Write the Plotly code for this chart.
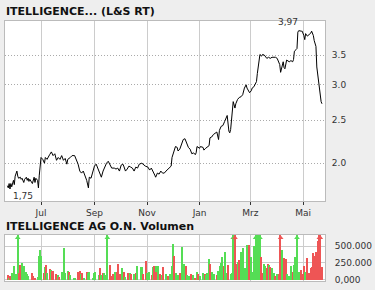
import math
import plotly.graph_objects as go

# ---------------- data ----------------
price_dates = [
    "2012-05-23", "2012-05-24", "2012-05-25", "2012-05-26", "2012-05-27", "2012-05-28", "2012-05-30", "2012-05-31",
    "2012-06-01", "2012-06-02", "2012-06-03", "2012-06-04", "2012-06-05", "2012-06-07", "2012-06-08", "2012-06-09",
    "2012-06-11", "2012-06-12", "2012-06-14", "2012-06-15", "2012-06-16", "2012-06-17", "2012-06-18", "2012-06-21",
    "2012-06-22", "2012-06-23", "2012-06-24", "2012-06-25", "2012-06-27", "2012-06-28", "2012-06-29", "2012-06-30",
    "2012-07-01", "2012-07-03", "2012-07-05", "2012-07-06", "2012-07-08", "2012-07-11", "2012-07-13", "2012-07-15",
    "2012-07-17", "2012-07-19", "2012-07-21", "2012-07-23", "2012-07-25", "2012-07-27", "2012-07-29", "2012-07-31",
    "2012-08-01", "2012-08-04", "2012-08-06", "2012-08-09", "2012-08-11", "2012-08-13", "2012-08-15", "2012-08-17",
    "2012-08-19", "2012-08-21", "2012-08-23", "2012-08-25", "2012-08-26", "2012-08-28", "2012-08-30", "2012-09-01",
    "2012-09-03", "2012-09-05", "2012-09-07", "2012-09-09", "2012-09-11", "2012-09-13", "2012-09-15", "2012-09-17",
    "2012-09-19", "2012-09-21", "2012-09-24", "2012-09-26", "2012-09-28", "2012-09-30", "2012-10-02", "2012-10-04",
    "2012-10-05", "2012-10-07", "2012-10-09", "2012-10-11", "2012-10-13", "2012-10-15", "2012-10-17", "2012-10-19",
    "2012-10-21", "2012-10-23", "2012-10-26", "2012-10-28", "2012-10-30", "2012-11-02", "2012-11-04", "2012-11-06",
    "2012-11-08", "2012-11-10", "2012-11-11", "2012-11-13", "2012-11-15", "2012-11-17", "2012-11-19", "2012-11-21",
    "2012-11-23", "2012-11-25", "2012-11-27", "2012-11-29", "2012-11-30", "2012-12-02", "2012-12-04", "2012-12-06",
    "2012-12-07", "2012-12-09", "2012-12-11", "2012-12-13", "2012-12-15", "2012-12-17", "2012-12-19", "2012-12-21",
    "2012-12-23", "2012-12-25", "2012-12-27", "2012-12-28", "2012-12-29", "2013-01-01", "2013-01-02", "2013-01-05",
    "2013-01-06", "2013-01-08", "2013-01-10", "2013-01-12", "2013-01-13", "2013-01-15", "2013-01-17", "2013-01-19",
    "2013-01-21", "2013-01-23", "2013-01-24", "2013-01-26", "2013-01-28", "2013-01-30", "2013-02-02", "2013-02-04",
    "2013-02-05", "2013-02-06", "2013-02-08", "2013-02-09", "2013-02-11", "2013-02-12", "2013-02-14", "2013-02-16",
    "2013-02-18", "2013-02-20", "2013-02-22", "2013-02-24", "2013-02-25", "2013-02-26", "2013-02-28", "2013-03-02",
    "2013-03-03", "2013-03-05", "2013-03-07", "2013-03-08", "2013-03-09", "2013-03-11", "2013-03-12", "2013-03-14",
    "2013-03-15", "2013-03-17", "2013-03-19", "2013-03-20", "2013-03-22", "2013-03-24", "2013-03-26", "2013-03-28",
    "2013-03-30", "2013-04-01", "2013-04-02", "2013-04-04", "2013-04-05", "2013-04-07", "2013-04-08", "2013-04-09",
    "2013-04-10", "2013-04-12", "2013-04-13", "2013-04-15", "2013-04-17", "2013-04-19", "2013-04-20", "2013-04-21",
    "2013-04-23", "2013-04-24", "2013-04-25", "2013-04-26", "2013-04-29", "2013-04-30", "2013-05-02", "2013-05-03",
    "2013-05-04", "2013-05-06", "2013-05-08", "2013-05-10", "2013-05-11", "2013-05-13", "2013-05-14", "2013-05-16",
    "2013-05-17", "2013-05-19", "2013-05-21", "2013-05-22", "2013-05-23",
]
price_values = [
    1.78, 1.76, 1.80, 1.75, 1.80, 1.77, 1.83, 1.79,
    1.87, 1.89, 1.92, 1.87, 1.85, 1.86, 1.84, 1.85,
    1.81, 1.84, 1.86, 1.83, 1.85, 1.82, 1.84, 1.80,
    1.84, 1.86, 1.81, 1.85, 1.83, 1.76, 1.88, 1.95,
    2.06, 2.04, 2.00, 2.06, 2.04, 2.09, 2.12, 2.08,
    2.10, 2.03, 2.06, 2.04, 2.08, 2.03, 2.05, 1.99,
    2.04, 2.06, 2.08, 2.08, 2.04, 1.99, 1.92, 1.90,
    1.92, 1.87, 1.83, 1.76, 1.86, 1.85, 1.92, 1.97,
    1.99, 1.94, 1.89, 1.86, 1.92, 1.97, 2.00, 2.02,
    1.99, 1.95, 1.95, 1.94, 1.95, 1.92, 1.98, 1.99,
    1.97, 1.92, 1.94, 1.97, 1.96, 1.95, 1.92, 1.96,
    1.95, 1.99, 2.00, 1.98, 1.97, 1.96, 1.93, 1.95,
    1.92, 1.88, 1.86, 1.90, 1.89, 1.92, 1.90, 1.90,
    1.92, 1.94, 1.95, 1.97, 2.06, 2.13, 2.18, 2.17,
    2.13, 2.15, 2.20, 2.26, 2.27, 2.21, 2.17, 2.15,
    2.10, 2.11, 2.09, 2.11, 2.18, 2.16, 2.18, 2.17,
    2.14, 2.16, 2.18, 2.19, 2.28, 2.29, 2.32, 2.33,
    2.35, 2.26, 2.37, 2.42, 2.43, 2.48, 2.56, 2.36,
    2.34, 2.38, 2.70, 2.75, 2.66, 2.72, 2.78, 2.81,
    2.82, 2.85, 2.95, 3.00, 2.95, 2.93, 2.88, 2.91,
    2.95, 2.97, 3.02, 3.05, 3.18, 3.48, 3.51, 3.48,
    3.51, 3.50, 3.46, 3.44, 3.46, 3.44, 3.46, 3.46,
    3.46, 3.44, 3.41, 3.33, 3.20, 3.33, 3.38, 3.28,
    3.26, 3.41, 3.40, 3.38, 3.40, 3.38, 3.42, 3.57,
    3.60, 3.62, 3.94, 3.97, 3.96, 3.96, 3.87, 3.79,
    3.91, 3.86, 3.89, 3.92, 3.96, 3.87, 3.77, 3.66,
    3.29, 3.02, 2.82, 2.75, 2.72,
]

vol_dates = [
    "2012-05-24", "2012-05-25", "2012-05-26", "2012-05-29", "2012-05-31", "2012-06-02", "2012-06-04", "2012-06-06",
    "2012-06-07", "2012-06-09", "2012-06-11", "2012-06-14", "2012-06-15", "2012-06-16", "2012-06-21", "2012-06-22",
    "2012-06-24", "2012-06-28", "2012-06-29", "2012-06-30", "2012-07-01", "2012-07-05", "2012-07-06", "2012-07-07",
    "2012-07-08", "2012-07-11", "2012-07-13", "2012-07-14", "2012-07-15", "2012-07-18", "2012-07-19", "2012-07-21",
    "2012-07-22", "2012-07-25", "2012-07-26", "2012-07-28", "2012-07-29", "2012-08-01", "2012-08-02", "2012-08-03",
    "2012-08-04", "2012-08-08", "2012-08-10", "2012-08-13", "2012-08-15", "2012-08-17", "2012-08-18", "2012-08-20",
    "2012-08-23", "2012-08-25", "2012-08-26", "2012-08-30", "2012-09-01", "2012-09-02", "2012-09-06", "2012-09-08",
    "2012-09-09", "2012-09-11", "2012-09-12", "2012-09-14", "2012-09-16", "2012-09-19", "2012-09-21", "2012-09-23",
    "2012-09-25", "2012-09-27", "2012-09-29", "2012-10-01", "2012-10-03", "2012-10-05", "2012-10-07", "2012-10-10",
    "2012-10-12", "2012-10-13", "2012-10-17", "2012-10-19", "2012-10-21", "2012-10-25", "2012-10-26", "2012-10-28",
    "2012-10-31", "2012-11-01", "2012-11-03", "2012-11-04", "2012-11-07", "2012-11-08", "2012-11-09", "2012-11-11",
    "2012-11-12", "2012-11-14", "2012-11-16", "2012-11-18", "2012-11-20", "2012-11-23", "2012-11-25", "2012-11-28",
    "2012-11-30", "2012-12-01", "2012-12-02", "2012-12-03", "2012-12-05", "2012-12-07", "2012-12-09", "2012-12-12",
    "2012-12-14", "2012-12-16", "2012-12-18", "2012-12-20", "2012-12-22", "2012-12-24", "2012-12-27", "2012-12-29",
    "2012-12-30", "2013-01-02", "2013-01-05", "2013-01-07", "2013-01-08", "2013-01-10", "2013-01-12", "2013-01-13",
    "2013-01-15", "2013-01-18", "2013-01-21", "2013-01-23", "2013-01-25", "2013-01-26", "2013-01-27", "2013-01-29",
    "2013-01-31", "2013-02-01", "2013-02-03", "2013-02-06", "2013-02-08", "2013-02-09", "2013-02-11", "2013-02-13",
    "2013-02-15", "2013-02-16", "2013-02-18", "2013-02-20", "2013-02-21", "2013-02-23", "2013-02-25", "2013-02-27",
    "2013-02-28", "2013-03-02", "2013-03-04", "2013-03-05", "2013-03-07", "2013-03-09", "2013-03-10", "2013-03-12",
    "2013-03-13", "2013-03-15", "2013-03-17", "2013-03-18", "2013-03-20", "2013-03-21", "2013-03-23", "2013-03-24",
    "2013-03-26", "2013-03-29", "2013-03-30", "2013-04-01", "2013-04-03", "2013-04-05", "2013-04-07", "2013-04-09",
    "2013-04-11", "2013-04-13", "2013-04-15", "2013-04-17", "2013-04-19", "2013-04-21", "2013-04-22", "2013-04-24",
    "2013-04-26", "2013-04-29", "2013-05-01", "2013-05-02", "2013-05-04", "2013-05-06", "2013-05-08", "2013-05-10",
    "2013-05-12", "2013-05-13", "2013-05-15", "2013-05-16", "2013-05-18", "2013-05-20", "2013-05-21", "2013-05-23",
]
vol_values = [
    73000, 21000, 57000, 99000, 213000, 83000, 900000, 109000,
    224000, 255000, 213000, 120000, 83000, 57000, 99000, 57000,
    21000, 47000, 359000, 447000, 359000, 99000, 187000, 224000,
    109000, 161000, 151000, 135000, 125000, 57000, 94000, 68000,
    42000, 47000, 120000, 473000, 109000, 109000, 135000, 120000,
    68000, 31000, 31000, 120000, 135000, 83000, 99000, 31000,
    120000, 99000, 120000, 16000, 99000, 120000, 68000, 172000,
    68000, 99000, 109000, 68000, 900000, 224000, 57000, 94000,
    120000, 120000, 239000, 83000, 172000, 120000, 47000, 109000,
    99000, 83000, 83000, 99000, 203000, 187000, 187000, 83000,
    276000, 109000, 57000, 120000, 68000, 187000, 203000, 213000,
    120000, 203000, 83000, 68000, 187000, 83000, 57000, 94000,
    213000, 541000, 359000, 120000, 109000, 68000, 109000, 484000,
    239000, 213000, 68000, 57000, 83000, 68000, 31000, 120000,
    83000, 57000, 99000, 83000, 68000, 109000, 307000, 239000,
    120000, 83000, 68000, 135000, 213000, 255000, 343000, 203000,
    411000, 99000, 224000, 83000, 109000, 900000, 900000, 239000,
    265000, 291000, 421000, 172000, 473000, 172000, 525000, 515000,
    515000, 343000, 120000, 499000, 900000, 135000, 900000, 900000,
    343000, 109000, 239000, 213000, 172000, 239000, 224000, 187000,
    172000, 99000, 57000, 83000, 83000, 900000, 447000, 327000,
    307000, 83000, 57000, 213000, 120000, 224000, 343000, 900000,
    120000, 151000, 83000, 213000, 120000, 327000, 109000, 172000,
    187000, 395000, 359000, 421000, 577000, 900000, 900000, 187000,
]
# +1 = up day (green), -1 = down day (red)
vol_dir = [
    -1, 1, -1, 1, 1, 1, 1, -1,
    -1, 1, 1, 1, 1, 1, -1, -1,
    -1, 1, 1, 1, 1, -1, 1, -1,
    1, -1, 1, -1, -1, 1, -1, 1,
    -1, 1, 1, 1, 1, -1, 1, -1,
    1, 1, 1, -1, -1, 1, -1, 1,
    -1, 1, 1, 1, 1, 1, 1, -1,
    1, -1, 1, 1, 1, -1, -1, -1,
    1, -1, -1, -1, 1, -1, 1, -1,
    1, -1, 1, -1, 1, 1, 1, -1,
    -1, 1, 1, 1, -1, 1, -1, 1,
    -1, 1, -1, 1, -1, 1, -1, 1,
    1, 1, -1, -1, 1, 1, -1, 1,
    1, -1, 1, 1, -1, 1, -1, 1,
    -1, 1, 1, -1, 1, 1, 1, -1,
    1, 1, -1, 1, 1, 1, 1, -1,
    1, 1, -1, 1, 1, 1, -1, -1,
    1, -1, 1, 1, 1, 1, 1, -1,
    -1, 1, 1, 1, 1, 1, 1, 1,
    -1, -1, 1, 1, -1, -1, 1, -1,
    1, 1, -1, 1, -1, -1, 1, -1,
    -1, 1, 1, 1, -1, 1, 1, 1,
    1, -1, -1, -1, 1, -1, -1, -1,
    -1, -1, -1, -1, -1, -1, -1, -1,
]

month_ticks = ["2012-07-01", "2012-09-01", "2012-11-01", "2013-01-01", "2013-03-01", "2013-05-01"]
month_labels = ["Jul", "Sep", "Nov", "Jan", "Mrz", "Mai"]
price_ticks = [2.0, 2.5, 3.0, 3.5]
price_tick_labels = ["2.0", "2.5", "3.0", "3.5"]
vol_ticks = [0, 250000, 500000]
vol_tick_labels = ["0,000", "250.000", "500.000"]

title_price = "ITELLIGENCE... (L&S RT)"
title_volume = "ITELLIGENCE AG O.N. Volumen"

# ---------------- layout helpers ----------------
W, H = 375, 290
X_RANGE = ["2012-05-20 05:00", "2013-05-26 12:00"]
P_RANGE = [math.log10(1.643), math.log10(4.18)]
V_RANGE = [-22000, 669000]
V_ARROW = 625000

def fx(px):
    return px / W

def fy(py):
    return 1 - py / H

GREEN = "#55dd55"
RED = "#ee5555"
TXT = "#333333"
GRID = "#cccccc"
FONT = "DejaVu Sans"

fig = go.Figure()

fig.add_trace(go.Scatter(
    x=price_dates, y=price_values, mode="lines",
    line=dict(color="#000000", width=1), xaxis="x", yaxis="y",
    hoverinfo="skip", showlegend=False,
))

bar_colors = [GREEN if d > 0 else RED for d in vol_dir]
fig.add_trace(go.Bar(
    x=vol_dates, y=vol_values, marker=dict(color=bar_colors, line=dict(width=0)),
    width=1.45 * 86400000, xaxis="x2", yaxis="y2", showlegend=False, hoverinfo="skip",
))

clip_idx = [i for i, v in enumerate(vol_values) if v > V_RANGE[1]]
fig.add_trace(go.Scatter(
    x=[vol_dates[i] for i in clip_idx], y=[V_ARROW] * len(clip_idx), mode="markers",
    marker=dict(symbol="triangle-up", size=5, color=[bar_colors[i] for i in clip_idx]),
    xaxis="x2", yaxis="y2", showlegend=False, hoverinfo="skip", cliponaxis=False,
))

common_x = dict(
    type="date", range=X_RANGE, tickmode="array", tickvals=month_ticks,
    showgrid=True, gridcolor=GRID, gridwidth=1, zeroline=False,
    showline=True, linecolor="#bbbbbb", linewidth=1, mirror=True,
)

fig.update_layout(
    width=W, height=H, margin=dict(l=0, r=0, t=0, b=0),
    paper_bgcolor="#eeeeee", plot_bgcolor="#ffffff",
    showlegend=False, bargap=0,
    xaxis=dict(domain=[fx(5), fx(325)], anchor="y", ticktext=month_labels,
               ticks="outside", ticklen=3, tickcolor="#333333", tickwidth=1,
               tickfont=dict(family=FONT, size=9, color=TXT), **common_x),
    yaxis=dict(domain=[fy(204), fy(21)], anchor="x", type="log", range=P_RANGE, side="right",
               tickmode="array", tickvals=price_ticks, ticktext=price_tick_labels,
               showgrid=True, gridcolor="#aaaaaa", griddash="1px,2px", gridwidth=1,
               ticks="", ticklabelstandoff=4, zeroline=False,
               showline=True, linecolor="#bbbbbb", mirror=True,
               tickfont=dict(family=FONT, size=9, color=TXT)),
    xaxis2=dict(domain=[fx(5), fx(325)], anchor="y2", showticklabels=False, ticks="", **common_x),
    yaxis2=dict(domain=[fy(285), fy(238)], anchor="x2", range=V_RANGE, side="right",
                tickmode="array", tickvals=vol_ticks, ticktext=vol_tick_labels,
                showgrid=True, gridcolor=GRID, gridwidth=1, ticks="", ticklabelstandoff=7,
                zeroline=False, showline=True, linecolor="#bbbbbb", mirror=True,
                tickfont=dict(family=FONT, size=9, color=TXT)),
)

# titles
fig.add_annotation(text="<b>%s</b>" % title_price, xref="paper", yref="paper", x=fx(4), y=fy(12),
                   xanchor="left", yanchor="middle", showarrow=False,
                   font=dict(family=FONT, size=11, color="#111111"))
fig.add_annotation(text="<b>%s</b>" % title_volume, xref="paper", yref="paper", x=fx(4), y=fy(230),
                   xanchor="left", yanchor="middle", showarrow=False,
                   font=dict(family=FONT, size=11, color="#111111"))

# max / min labels
imax = max(range(len(price_values)), key=lambda i: price_values[i])
imin = min(range(len(price_values)), key=lambda i: price_values[i])
fig.add_annotation(text=("%.2f" % price_values[imax]).replace(".", ","), x=price_dates[imax],
                   y=math.log10(price_values[imax]), xref="x", yref="y",
                   xanchor="right", yanchor="bottom", showarrow=False, yshift=2, xshift=1,
                   font=dict(family=FONT, size=9, color=TXT))
fig.add_annotation(text=("%.2f" % price_values[imin]).replace(".", ","), x=price_dates[imin],
                   y=math.log10(price_values[imin]), xref="x", yref="y",
                   xanchor="left", yanchor="top", showarrow=False, yshift=0, xshift=1,
                   font=dict(family=FONT, size=9, color=TXT))

fig.write_html("out.html")
